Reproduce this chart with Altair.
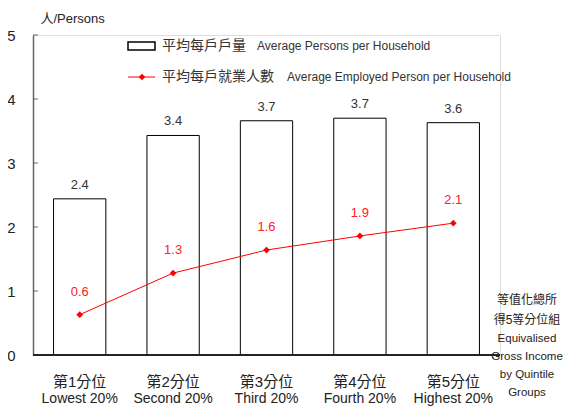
import altair as alt
import pandas as pd

cats_zh = ["第1分位", "第2分位", "第3分位", "第4分位", "第5分位"]
cats_en = ["Lowest 20%", "Second 20%", "Third 20%", "Fourth 20%", "Highest 20%"]
persons = [2.44, 3.43, 3.66, 3.70, 3.63]
employed = [0.63, 1.28, 1.64, 1.86, 2.06]
y_ticks = [0, 1, 2, 3, 4, 5]

legend_zh = ["平均每戶戶量", "平均每戶就業人數"]
legend_en = ["Average Persons per Household", "Average  Employed Person per Household"]
right_title_zh = ["等值化總所", "得5等分位組"]
right_title_en = ["Equivalised", "Gross Income", "by Quintile", "Groups"]

FONT = "Liberation Sans, Arial, sans-serif"
CJK = "Liberation Sans, Noto Sans CJK TC, sans-serif"

df = pd.DataFrame({"zh": cats_zh, "en": cats_en, "persons": persons, "employed": employed})
ticks_df = pd.DataFrame({"v": y_ticks})

W, H = 467, 320

xenc = alt.X("en:N", sort=cats_en, axis=None,
             scale=alt.Scale(paddingInner=0.44, paddingOuter=0.22))
yscale = alt.Scale(domain=[0, 5], nice=False)

base = alt.Chart(df)

bars = base.mark_bar(fill="white", stroke="black", strokeWidth=1).encode(
    x=xenc,
    y=alt.Y("persons:Q", scale=yscale,
            axis=alt.Axis(values=y_ticks, format="d", ticks=False, grid=False, domain=True,
                          domainColor="#666666", domainWidth=1.5,
                          labelFont=FONT, labelFontSize=15, labelColor="#222222",
                          labelPadding=18, title="人/Persons", titleFont=CJK,
                          titleFontSize=13, titleFontWeight="normal", titleColor="#222222",
                          titleAngle=0, titleX=7, titleY=-17, titleAlign="left",
                          titleBaseline="middle"))
)

bar_labels = base.mark_text(font=FONT, fontSize=13, color="#333333", dy=-14,
                            baseline="middle").encode(
    x=xenc, y=alt.Y("persons:Q", scale=yscale),
    text=alt.Text("persons:Q", format=".1f"))

line = base.mark_line(color="#ff0000", strokeWidth=1).encode(
    x=xenc, y=alt.Y("employed:Q", scale=yscale))
pts = base.mark_point(shape="diamond", filled=True, color="#ff0000", size=45, opacity=1).encode(
    x=xenc, y=alt.Y("employed:Q", scale=yscale))
line_labels = base.mark_text(font=FONT, fontSize=13, color="#ff2020", dy=-23,
                             baseline="middle").encode(
    x=xenc, y=alt.Y("employed:Q", scale=yscale),
    text=alt.Text("employed:Q", format=".1f"))

ytick_marks = alt.Chart(ticks_df).mark_rule(color="#666666", strokeWidth=1).encode(
    y=alt.Y("v:Q", scale=yscale), x=alt.value(0), x2=alt.value(5))

xaxis_line = alt.Chart(ticks_df).mark_rule(color="#222222", strokeWidth=1).encode(
    x=alt.value(0), x2=alt.value(W), y=alt.value(H))

xl_zh = base.mark_text(font=CJK, fontSize=15, color="#222222", baseline="middle").encode(
    x=xenc, y=alt.value(347), text="zh:N")
xl_en = base.mark_text(font=FONT, fontSize=14, color="#222222", baseline="middle").encode(
    x=xenc, y=alt.value(364), text="en:N")

leg_df = pd.DataFrame({"zh": legend_zh, "en": legend_en, "yy": [11, 42], "xe": [224, 254]})
leg_text_zh = alt.Chart(leg_df).mark_text(font=CJK, fontSize=14, color="#333333",
                                          align="left", baseline="middle").encode(
    x=alt.value(129), y=alt.Y("yy:Q", scale=None), text="zh:N")
leg_text_en = alt.Chart(leg_df).mark_text(font=FONT, fontSize=12, color="#333333",
                                          align="left", baseline="middle").encode(
    x=alt.X("xe:Q", scale=None), y=alt.Y("yy:Q", scale=None), text="en:N")
leg_rect = alt.Chart(ticks_df.head(1)).mark_rect(fill="white", stroke="black", strokeWidth=1.5).encode(
    x=alt.value(95), x2=alt.value(122), y=alt.value(7), y2=alt.value(15))
leg_line = alt.Chart(ticks_df.head(1)).mark_rule(color="#ff0000", strokeWidth=1).encode(
    x=alt.value(95), x2=alt.value(122), y=alt.value(42))
leg_pt = alt.Chart(ticks_df.head(1)).mark_point(shape="diamond", filled=True, color="#ff0000",
                                                size=45, opacity=1).encode(
    x=alt.value(109), y=alt.value(42))

rt_zh = alt.Chart(pd.DataFrame({"t": [right_title_zh]})).mark_text(
    font=CJK, fontSize=12, color="#222222", align="center", baseline="middle",
    lineHeight=20).encode(x=alt.value(494), y=alt.value(265), text="t")
rt_en = alt.Chart(pd.DataFrame({"t": [right_title_en]})).mark_text(
    font=FONT, fontSize=11.5, color="#222222", align="center", baseline="middle",
    lineHeight=18).encode(x=alt.value(494), y=alt.value(304), text="t")

chart = alt.layer(
    bars, ytick_marks, xaxis_line, bar_labels, line, pts, line_labels,
    xl_zh, xl_en, leg_rect, leg_line, leg_pt, leg_text_zh, leg_text_en, rt_zh, rt_en
).properties(
    width=W, height=H,
    autosize=alt.AutoSizeParams(type="none"),
    padding={"left": 25, "top": 27, "right": 63, "bottom": 51}
).configure_view(stroke=None).configure(background="white")

chart.save("out.html", embed_options={"renderer": "svg", "actions": False})
